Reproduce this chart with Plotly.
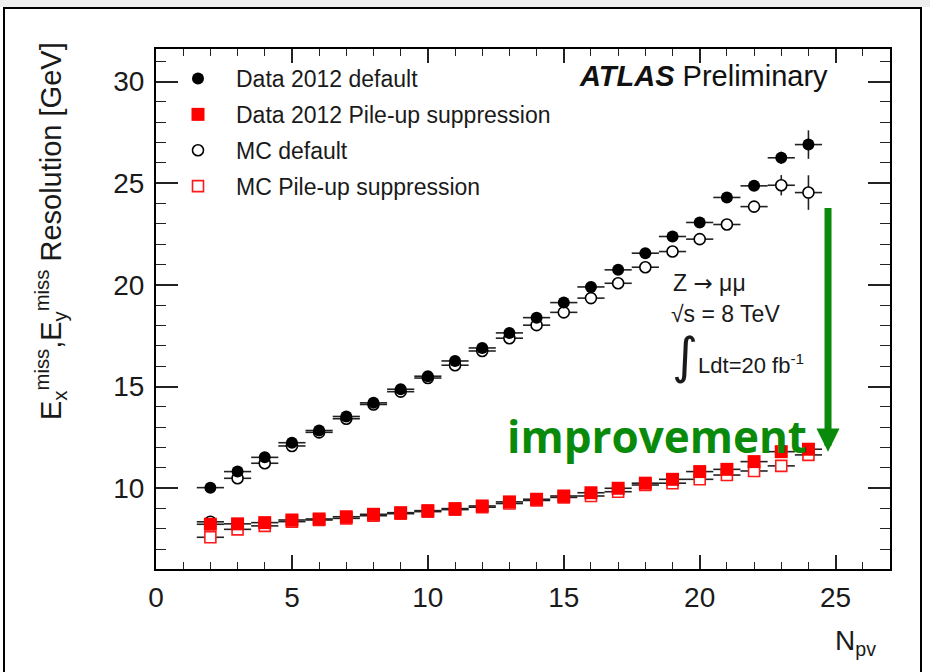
import plotly.graph_objects as go

# ---- data ----
npv = list(range(2, 25))
data_default = [10.03, 10.82, 11.52, 12.24, 12.84, 13.53, 14.2, 14.87, 15.51, 16.26, 16.9, 17.64,
                18.39, 19.13, 19.9, 20.74, 21.56, 22.38, 23.07, 24.3, 24.87, 26.25, 26.9]
data_default_err = [0.05] * 19 + [0.1, 0.15, 0.3, 0.7]
data_pu = [8.23, 8.25, 8.31, 8.44, 8.49, 8.6, 8.72, 8.8, 8.9, 9.0, 9.13, 9.33, 9.46, 9.62,
           9.78, 10.0, 10.25, 10.44, 10.82, 10.93, 11.31, 11.8, 11.92]
data_pu_err = [0.05] * 20 + [0.1, 0.15, 0.25]
mc_default = [8.35, 10.49, 11.23, 12.08, 12.75, 13.42, 14.12, 14.75, 15.42, 16.05, 16.75, 17.38,
              18.02, 18.65, 19.35, 20.08, 20.87, 21.64, 22.25, 22.97, 23.85, 24.9, 24.54]
mc_default_err = [0.05] * 19 + [0.15, 0.25, 0.5, 0.85]
mc_pu = [7.59, 7.98, 8.15, 8.36, 8.44, 8.52, 8.65, 8.75, 8.85, 8.95, 9.07, 9.25, 9.4, 9.55,
         9.62, 9.83, 10.16, 10.25, 10.44, 10.65, 10.85, 11.1, 11.64]
mc_pu_err = [0.05] * 20 + [0.1, 0.15, 0.3]
bin_half_width = [0.5] * len(npv)

labels = ["Data 2012 default", "Data 2012 Pile-up suppression", "MC default", "MC Pile-up suppression"]

FONT = "Liberation Sans, Arial, Helvetica, sans-serif"
ERRC = "#222222"


def ebars(arr):
    return dict(type="data", array=arr, symmetric=True, color=ERRC, thickness=1.6, width=0)


fig = go.Figure()

# drawing order: MC below data
fig.add_trace(go.Scatter(
    x=npv, y=mc_default, mode="markers", name=labels[2], legendrank=3, legendgroup="c",
    marker=dict(symbol="circle", size=11, color="white", line=dict(color="black", width=1.6)),
    error_x=ebars(bin_half_width), error_y=ebars(mc_default_err)))
fig.add_trace(go.Scatter(
    x=npv, y=mc_pu, mode="markers", name=labels[3], legendrank=4, legendgroup="d",
    marker=dict(symbol="square", size=11, color="white", line=dict(color="#ff1a1a", width=1.6)),
    error_x=ebars(bin_half_width), error_y=ebars(mc_pu_err)))
fig.add_trace(go.Scatter(
    x=npv, y=data_default, mode="markers", name=labels[0], legendrank=1, legendgroup="a",
    marker=dict(symbol="circle", size=12, color="black", line=dict(width=0)),
    error_x=ebars(bin_half_width), error_y=ebars(data_default_err)))
fig.add_trace(go.Scatter(
    x=npv, y=data_pu, mode="markers", name=labels[1], legendrank=2, legendgroup="b",
    marker=dict(symbol="square", size=13, color="#ff0000", line=dict(width=0)),
    error_x=ebars(bin_half_width), error_y=ebars(data_pu_err)))

# plot area in pixels: x 156..890, y 49..569
L, R, T, B = 156, 40, 49, 103
W, H = 930, 672
PW, PH = W - L - R, H - T - B


def px(xp):
    return (xp - L) / PW


def py(yp):
    return (H - B - yp) / PH


axis_common = dict(
    showgrid=False, zeroline=False, showline=True, linecolor="black", linewidth=2,
    mirror="allticks", ticks="inside", tickcolor="#222", tickwidth=1.6,
    tickfont=dict(family=FONT, size=28, color="#1a1a1a"),
)

fig.update_layout(
    width=W, height=H,
    margin=dict(l=L, r=R, t=T, b=B),
    paper_bgcolor="white", plot_bgcolor="white",
    showlegend=True,
    legend=dict(x=px(160), y=py(57), xanchor="left", yanchor="top",
                font=dict(family=FONT, size=23, color="#1a1a1a"),
                bgcolor="rgba(0,0,0,0)", traceorder="grouped", tracegroupgap=3,
                itemwidth=66),
    xaxis=dict(range=[0, 27], dtick=5, tick0=0, ticklen=14,
               minor=dict(dtick=1, ticklen=7, ticks="inside", tickcolor="#222", tickwidth=1.4),
               ticklabelstandoff=2, **axis_common),
    yaxis=dict(range=[6.03, 31.6], dtick=5, tick0=0, ticklen=22,
               minor=dict(dtick=1, ticklen=10, ticks="inside", tickcolor="#222", tickwidth=1.4),
               ticklabelstandoff=4, **axis_common),
)

ann = []
# y-axis title
ann.append(dict(x=px(51), y=py(40), xref="paper", yref="paper", xanchor="center", yanchor="top",
                textangle=-90, showarrow=False,
                text="E<sub>x</sub><sup>miss</sup>,E<sub>y</sub><sup>miss</sup> Resolution [GeV]",
                font=dict(family=FONT, size=29, color="#1a1a1a")))
# x-axis title
ann.append(dict(x=px(878), y=py(642), xref="paper", yref="paper", xanchor="right", yanchor="middle",
                showarrow=False, text="N<sub>pv</sub>",
                font=dict(family=FONT, size=28, color="#1a1a1a")))
# ATLAS Preliminary
ann.append(dict(x=px(830), y=py(76), xref="paper", yref="paper", xanchor="right", yanchor="middle",
                showarrow=False,
                text="<b><i>ATLAS</i></b> Preliminary",
                font=dict(family=FONT, size=29, color="#111")))
# process labels
ann.append(dict(x=px(671), y=py(283), xref="paper", yref="paper", xanchor="left", yanchor="middle",
                showarrow=False, text="Z <span style='font-family:DejaVu Sans'>→</span> μμ",
                font=dict(family=FONT, size=23, color="#1a1a1a")))
ann.append(dict(x=px(669), y=py(314), xref="paper", yref="paper", xanchor="left", yanchor="middle",
                showarrow=False, text="√s = 8 TeV", font=dict(family=FONT, size=23, color="#1a1a1a")))
ann.append(dict(x=px(670), y=py(356), xref="paper", yref="paper", xanchor="left", yanchor="middle",
                showarrow=False,
                text="<span style='font-size:50px;font-family:DejaVu Sans'>∫</span>Ldt=20 fb<sup>-1</sup>",
                font=dict(family=FONT, size=22, color="#1a1a1a")))
# improvement
GREEN = "#0a8a0a"
ann.append(dict(x=px(505), y=py(436), xref="paper", yref="paper", xanchor="left", yanchor="middle",
                showarrow=False, text="<b>improvement</b>",
                font=dict(family="Open Sans, sans-serif", size=44, color=GREEN)))
# arrow (data coordinates)
ann.append(dict(x=24.72, y=11.8, ax=24.72, ay=23.85, xref="x", yref="y", axref="x", ayref="y",
                showarrow=True, arrowhead=2, arrowsize=0.66, arrowwidth=7, arrowcolor=GREEN, text=""))
fig.update_layout(annotations=ann)

# outer frame
fig.add_shape(type="rect", xref="paper", yref="paper",
              x0=px(0), x1=px(W), y0=py(0), y1=py(7), fillcolor="#eeeeee", line=dict(width=0))
fig.add_shape(type="rect", xref="paper", yref="paper",
              x0=px(4), x1=px(921), y0=py(690), y1=py(8), line=dict(color="black", width=2),
              fillcolor="rgba(0,0,0,0)")

fig.write_html("out.html")
